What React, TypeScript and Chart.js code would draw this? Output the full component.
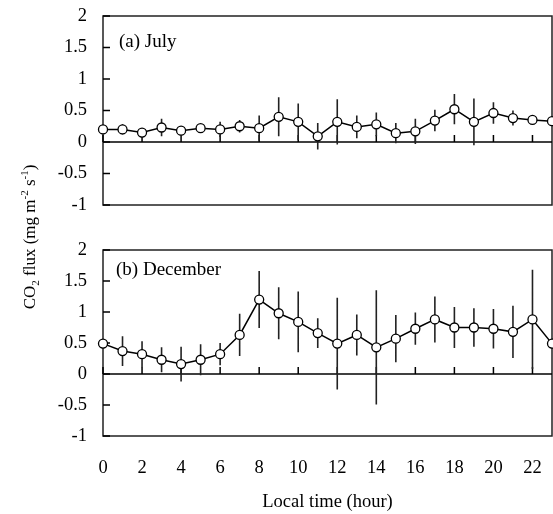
import React, { useEffect, useRef } from "react";
import { Chart, registerables } from "chart.js";

Chart.register(...registerables);

const hours = [0, 1, 2, 3, 4, 5, 6, 7, 8, 9, 10, 11, 12, 13, 14, 15, 16, 17, 18, 19, 20, 21, 22, 23];
const xTickValues = [0, 2, 4, 6, 8, 10, 12, 14, 16, 18, 20, 22];
const yTickValues = [-1, -0.5, 0, 0.5, 1, 1.5, 2];

const julyFlux = [0.2, 0.2, 0.15, 0.23, 0.18, 0.22, 0.2, 0.25, 0.22, 0.4, 0.32, 0.09, 0.32, 0.24, 0.28, 0.14, 0.17, 0.34, 0.52, 0.32, 0.46, 0.38, 0.35, 0.33];
const julyErr = [0.04, 0.08, 0.05, 0.14, 0.06, 0.05, 0.12, 0.1, 0.2, 0.31, 0.29, 0.21, 0.36, 0.18, 0.19, 0.16, 0.2, 0.17, 0.24, 0.37, 0.17, 0.12, 0.07, 0.04];

const decFlux = [0.49, 0.37, 0.32, 0.23, 0.16, 0.23, 0.32, 0.63, 1.2, 0.98, 0.84, 0.66, 0.49, 0.63, 0.43, 0.57, 0.73, 0.88, 0.75, 0.75, 0.73, 0.68, 0.88, 0.49];
const decErr = [0.05, 0.24, 0.21, 0.2, 0.28, 0.25, 0.18, 0.34, 0.46, 0.42, 0.49, 0.24, 0.74, 0.33, 0.92, 0.38, 0.26, 0.37, 0.33, 0.31, 0.32, 0.42, 0.8, 0.05];

const panelLabels = ["(a) July", "(b) December"];
const xTitle = "Local time (hour)";

const FONT = "'Liberation Serif', 'Times New Roman', serif";

function drawYTitle(ctx: CanvasRenderingContext2D) {
  const big = `17px ${FONT}`;
  const small = `11px ${FONT}`;
  const parts: [string, number, string][] = [
    ["CO", 0, big],
    ["2", 4, small],
    [" flux (mg m", 0, big],
    ["-2", -7, small],
    [" s", 0, big],
    ["-1", -7, small],
    [")", 0, big],
  ];
  ctx.save();
  let total = 0;
  for (const [t, , f] of parts) {
    ctx.font = f;
    total += ctx.measureText(t).width;
  }
  ctx.translate(29, 237);
  ctx.rotate(-Math.PI / 2);
  ctx.fillStyle = "#000";
  ctx.textBaseline = "alphabetic";
  ctx.textAlign = "left";
  let x = -total / 2;
  for (const [t, dy, f] of parts) {
    ctx.font = f;
    ctx.fillText(t, x, 6 + dy);
    x += ctx.measureText(t).width;
  }
  ctx.restore();
}

function makeChart(
  canvas: HTMLCanvasElement,
  values: number[],
  errs: number[],
  label: string,
  bottom: boolean
) {
  const decor = {
    id: "panelDecor",
    beforeDatasetsDraw(chart: any) {
      const { ctx, chartArea: a, scales } = chart;
      const xs = scales.x;
      const ys = scales.y;
      ctx.save();
      // frame
      ctx.strokeStyle = "#222";
      ctx.lineWidth = 1.5;
      ctx.strokeRect(a.left, a.top, a.right - a.left, a.bottom - a.top);
      // zero line
      const y0 = ys.getPixelForValue(0);
      ctx.strokeStyle = "#000";
      ctx.lineWidth = 1.5;
      ctx.beginPath();
      ctx.moveTo(a.left, y0);
      ctx.lineTo(a.right, y0);
      ctx.stroke();
      // inward y ticks
      ctx.beginPath();
      for (const v of yTickValues) {
        const py = ys.getPixelForValue(v);
        ctx.moveTo(a.left, py);
        ctx.lineTo(a.left + 7, py);
      }
      // x ticks on the zero line, pointing up
      for (const v of xTickValues) {
        const px = xs.getPixelForValue(v);
        ctx.moveTo(px, y0);
        ctx.lineTo(px, y0 - 7);
      }
      ctx.stroke();
      // error bars
      ctx.strokeStyle = "#222";
      ctx.lineWidth = 1.6;
      ctx.beginPath();
      values.forEach((v, i) => {
        const px = xs.getPixelForValue(hours[i]);
        ctx.moveTo(px, ys.getPixelForValue(v + errs[i]));
        ctx.lineTo(px, ys.getPixelForValue(v - errs[i]));
      });
      ctx.stroke();
      // panel label
      ctx.fillStyle = "#000";
      ctx.font = `19px ${FONT}`;
      ctx.textBaseline = "middle";
      ctx.textAlign = "left";
      if (bottom) ctx.fillText(label, a.left + 13, a.top + 20);
      else ctx.fillText(label, a.left + 16, a.top + 26);
      ctx.restore();
    },
    afterDraw(chart: any) {
      if (!bottom) return;
      const { ctx, chartArea: a } = chart;
      ctx.save();
      ctx.fillStyle = "#000";
      ctx.font = `18.5px ${FONT}`;
      ctx.textAlign = "center";
      ctx.textBaseline = "middle";
      ctx.fillText(xTitle, (a.left + a.right) / 2, 502);
      ctx.restore();
      drawYTitle(ctx);
    },
  };

  const xScale: any = {
    type: "linear",
    min: 0,
    max: 23,
    display: bottom,
    grid: { display: false, drawTicks: false },
    border: { display: false },
    afterBuildTicks: (scale: any) => {
      scale.ticks = xTickValues.map((v) => ({ value: v }));
    },
    ticks: {
      color: "#000",
      font: { family: FONT, size: 18.5 },
      padding: 21,
      maxRotation: 0,
      autoSkip: false,
      callback: (v: any) => String(v),
    },
  };
  if (bottom) {
    xScale.afterFit = (scale: any) => {
      scale.height = 78;
      scale.paddingLeft = 0;
      scale.paddingRight = 0;
    };
  }

  return new Chart(canvas, {
    type: "line",
    data: {
      datasets: [
        {
          data: values.map((v, i) => ({ x: hours[i], y: v })),
          borderColor: "#000",
          borderWidth: 1.5,
          pointRadius: 4.5,
          pointBorderWidth: 1.3,
          pointBackgroundColor: "#fff",
          pointBorderColor: "#000",
          tension: 0,
          clip: false,
        } as any,
      ],
    },
    options: {
      animation: false,
      responsive: false,
      maintainAspectRatio: false,
      devicePixelRatio: 1,
      layout: {
        autoPadding: false,
        padding: bottom
          ? { top: 250, bottom: 0, left: 0, right: 1 }
          : { top: 16, bottom: 309, left: 0, right: 1 },
      },
      plugins: { legend: { display: false }, tooltip: { enabled: false } },
      scales: {
        x: xScale,
        y: {
          type: "linear",
          min: -1,
          max: 2,
          grid: { display: false, drawTicks: false },
          border: { display: false },
          afterBuildTicks: (scale: any) => {
            scale.ticks = yTickValues.map((v) => ({ value: v }));
          },
          afterFit: (scale: any) => {
            scale.width = 103;
            scale.paddingTop = 0;
            scale.paddingBottom = 0;
          },
          ticks: {
            color: "#000",
            font: { family: FONT, size: 18.5 },
            padding: 16,
            autoSkip: false,
            callback: (v: any) => String(v),
          },
        },
      },
    } as any,
    plugins: [decor],
  });
}

export default function App() {
  const topRef = useRef<HTMLCanvasElement>(null);
  const botRef = useRef<HTMLCanvasElement>(null);

  useEffect(() => {
    const c1 = makeChart(topRef.current!, julyFlux, julyErr, panelLabels[0], false);
    const c2 = makeChart(botRef.current!, decFlux, decErr, panelLabels[1], true);
    return () => {
      c1.destroy();
      c2.destroy();
    };
  }, []);

  const cs: React.CSSProperties = { position: "absolute", left: 0, top: 0 };
  return (
    <div style={{ position: "fixed", left: 0, top: 0, width: 553, height: 514, background: "#fff" }}>
      <canvas ref={topRef} width={553} height={514} style={cs} />
      <canvas ref={botRef} width={553} height={514} style={cs} />
    </div>
  );
}
